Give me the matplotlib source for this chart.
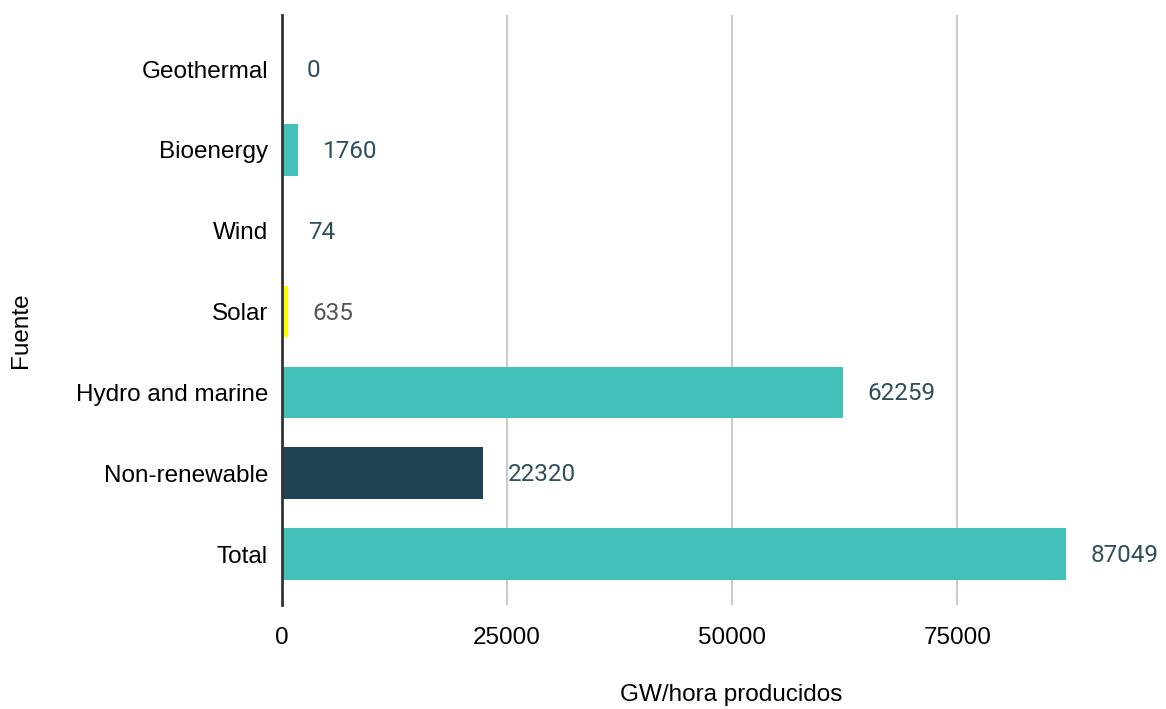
import matplotlib.pyplot as plt

# data
fuentes = ['Geothermal', 'Bioenergy', 'Wind', 'Solar', 'Hydro and marine', 'Non-renewable', 'Total']
valores = [0, 1760, 74, 635, 62259, 22320, 87049]
colores = ['#43c1b9', '#43c1b9', '#43c1b9', '#ffff00', '#43c1b9', '#1f4254', '#43c1b9']
colores_texto = ['#2f4d5e', '#2f4d5e', '#2f4d5e', '#555555', '#2f4d5e', '#2f4d5e', '#2f4d5e']
ticks_x = [0, 25000, 50000, 75000]

plt.rcParams['font.family'] = ['Liberation Sans', 'DejaVu Sans']

fig = plt.figure(figsize=(11.66, 7.09), dpi=100)
ax = fig.add_axes([282 / 1166, 1 - 605 / 709, (1160 - 282) / 1166, 590 / 709])

pos = list(range(len(fuentes)))
ax.barh(pos, valores, height=0.64, color=colores, zorder=3)

for p, v, c in zip(pos, valores, colores_texto):
    ax.annotate(str(v), xy=(v, p), xytext=(18, -1), textcoords='offset points',
                va='center', ha='left', fontsize=17.5, color=c, family=['Roboto', 'DejaVu Sans'])

ax.set_yticks(pos)
ax.set_yticklabels(fuentes, fontsize=17.5)
ax.set_ylim(6.63, -0.67)
ax.set_xlim(0, 97500)
ax.set_xticks(ticks_x)
ax.set_xticklabels([str(t) for t in ticks_x], fontsize=17.5)
ax.tick_params(axis='y', length=0, pad=10)
ax.tick_params(axis='x', length=0, pad=16)

ax.grid(axis='x', color='#cccccc', linewidth=1.5, zorder=0)
for s in ['top', 'right', 'bottom']:
    ax.spines[s].set_visible(False)
ax.spines['left'].set_linewidth(2)
ax.spines['left'].set_color('#333333')
ax.spines['left'].set_zorder(4)

ax.set_xlabel('GW/hora producidos', fontsize=17.5)
ax.xaxis.set_label_coords((731 - 282) / 878, -(684 - 605) / 590)
ax.set_ylabel('Fuente', fontsize=17.5)
ax.yaxis.set_label_coords(-(282 - 32) / 878, (605 - 330) / 590)

fig.savefig('out.png', dpi=100)
